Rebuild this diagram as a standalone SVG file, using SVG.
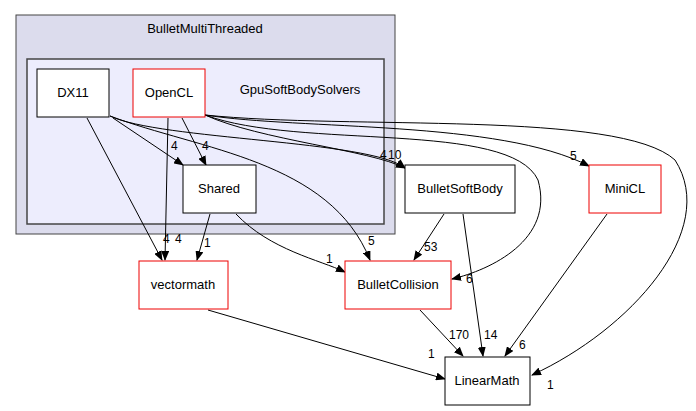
<svg xmlns="http://www.w3.org/2000/svg" width="696" height="411" viewBox="0 0 696 411">
<style>
text{font-family:"Liberation Sans",Arial,sans-serif;font-size:13px;fill:#000}
.n{fill:#fff;stroke:#000;stroke-width:1}
.r{fill:#fff;stroke:#e00;stroke-width:1}
.e{fill:none;stroke:#000;stroke-width:1;marker-end:url(#a)}
.l{font-size:12px}
</style>
<defs><marker id="a" markerWidth="10" markerHeight="8" refX="9" refY="4" orient="auto" markerUnits="userSpaceOnUse"><path d="M0,0L10,4L0,8z" fill="#000"/></marker></defs>
<rect x="16" y="15" width="379" height="219" fill="#dcdced" stroke="#444"/>
<text x="205" y="33" text-anchor="middle">BulletMultiThreaded</text>
<rect x="27" y="59" width="357" height="165" fill="#ededfd" stroke="#444" stroke-width="1.5"/>
<text x="300" y="94" text-anchor="middle">GpuSoftBodySolvers</text>
<g id="connectors">
<path class="e" d="M87,118L162,260"/><text x="163" y="243" class="l">4</text>
<path class="e" d="M113,118L183,165"/><text x="171" y="150" class="l">4</text>
<path class="e" d="M110,116C160,140 370,140 405,168"/><text x="380" y="159" class="l">4</text>
<path class="e" d="M110,116C200,150 330,160 370,260"/><text x="368" y="245" class="l">5</text>
<path class="e" d="M168,118L165,260"/><text x="175" y="243" class="l">4</text>
<path class="e" d="M182,118L206,165"/><text x="202" y="150" class="l">4</text>
<path class="e" d="M205,115C260,140 370,150 405,168"/><text x="388" y="159" class="l">10</text>
<path class="e" d="M205,115C300,150 510,120 538,180C555,240 490,270 452,279"/><text x="466" y="283" class="l">6</text>
<path class="e" d="M205,115C300,130 500,120 589,166"/><text x="570" y="160" class="l">5</text>
<path class="e" d="M205,115C350,130 620,110 675,160C720,230 630,330 532,375"/><text x="547" y="389" class="l">1</text>
<path class="e" d="M210,214L197,260"/><text x="204" y="247" class="l">1</text>
<path class="e" d="M236,214C270,250 320,260 345,272"/><text x="326" y="263" class="l">1</text>
<path class="e" d="M444,214L414,260"/><text x="424" y="251" class="l">53</text>
<path class="e" d="M463,214L483,356"/><text x="484" y="339" class="l">14</text>
<path class="e" d="M420,310L463,356"/><text x="449" y="339" class="l">170</text>
<path class="e" d="M607,214L505,356"/><text x="519" y="349" class="l">6</text>
<path class="e" d="M208,310L445,379"/><text x="428" y="358" class="l">1</text>
</g>
<g id="DX11"><rect class="n" x="37" y="69" width="72" height="48"/><text x="73" y="97" text-anchor="middle">DX11</text></g>
<g id="OpenCL"><rect class="r" x="133" y="69" width="72" height="48"/><text x="169" y="97" text-anchor="middle">OpenCL</text></g>
<g id="Shared"><rect class="n" x="183" y="165" width="73" height="48"/><text x="219" y="193" text-anchor="middle">Shared</text></g>
<g id="BulletSoftBody"><rect class="n" x="405" y="165" width="110" height="48"/><text x="460" y="193" text-anchor="middle">BulletSoftBody</text></g>
<g id="MiniCL"><rect class="r" x="589" y="165" width="72" height="48"/><text x="625" y="193" text-anchor="middle">MiniCL</text></g>
<g id="vectormath"><rect class="r" x="139" y="261" width="89" height="48"/><text x="183" y="289" text-anchor="middle">vectormath</text></g>
<g id="BulletCollision"><rect class="r" x="345" y="261" width="106" height="48"/><text x="398" y="289" text-anchor="middle">BulletCollision</text></g>
<g id="LinearMath"><rect class="n" x="445" y="357" width="85" height="48"/><text x="487" y="385" text-anchor="middle">LinearMath</text></g>
</svg>
